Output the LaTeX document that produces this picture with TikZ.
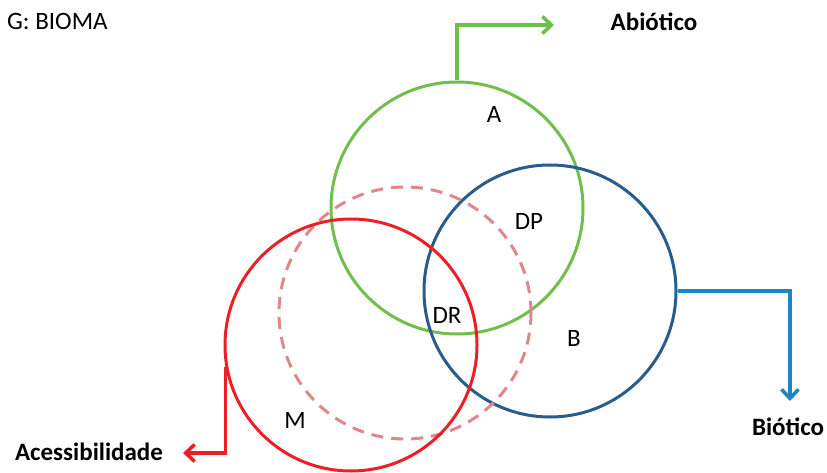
\documentclass[tikz,border=0pt]{standalone}
\usepackage{fontspec}
\setmainfont{Carlito}
\usetikzlibrary{arrows.meta}
\definecolor{verdeA}{RGB}{112,190,76}
\definecolor{azulB}{RGB}{40,92,140}
\definecolor{azulSeta}{RGB}{30,132,196}
\definecolor{vermelhoM}{RGB}{236,30,40}
\definecolor{rosaDR}{RGB}{222,136,140}
\begin{document}
\begin{tikzpicture}[x=1pt,y=-1pt]
			\tikzstyle{circulo}=[circle,draw,line width=3pt,minimum size=252pt,inner sep=0pt]
			\tikzstyle{seta}=[-{Straight Barb[length=9pt,width=17pt]},line width=3.6pt]
			\tikzstyle{rotulo}=[inner sep=0pt,font=\fontsize{25}{30}\selectfont]
			\tikzstyle{titulo}=[inner sep=0pt,font=\fontsize{25}{30}\selectfont\bfseries]
			\useasboundingbox (0,0) rectangle (827,473);
			% circulos
			\node[circulo,verdeA] (CA) at (457,208) {};
			\node[circulo,azulB] (CB) at (550,291) {};
			\node[circulo,rosaDR,dashed,dash pattern=on 12pt off 8pt] (CD) at (405,313) {};
			\node[circulo,vermelhoM] (CM) at (351,345) {};
			% rotulos
			\node[rotulo,anchor=west] (G) at (7,21) {G: BIOMA};
			\node[rotulo] (A) at (494,114) {A};
			\node[rotulo] (DP) at (529,221) {DP};
			\node[rotulo] (DR) at (447,315) {DR};
			\node[rotulo] (B) at (574,338) {B};
			\node[rotulo] (M) at (295,420) {M};
			\node[titulo] (Abio) at (654,22) {Abiótico};
			\node[titulo] (Bio) at (788,427) {Biótico};
			\node[titulo] (Acess) at (89,452) {Acessibilidade};
			% setas
			\coordinate (fimA) at (554,25);
			\coordinate (fimB) at (790,401);
			\coordinate (fimM) at (183,453);
			\draw[seta,verdeA] (CA.north) |- (fimA);
			\draw[seta,azulSeta] (CB.east) -| (fimB);
			\draw[seta,vermelhoM] (CM.190) |- (fimM);
\end{tikzpicture}
\end{document}
